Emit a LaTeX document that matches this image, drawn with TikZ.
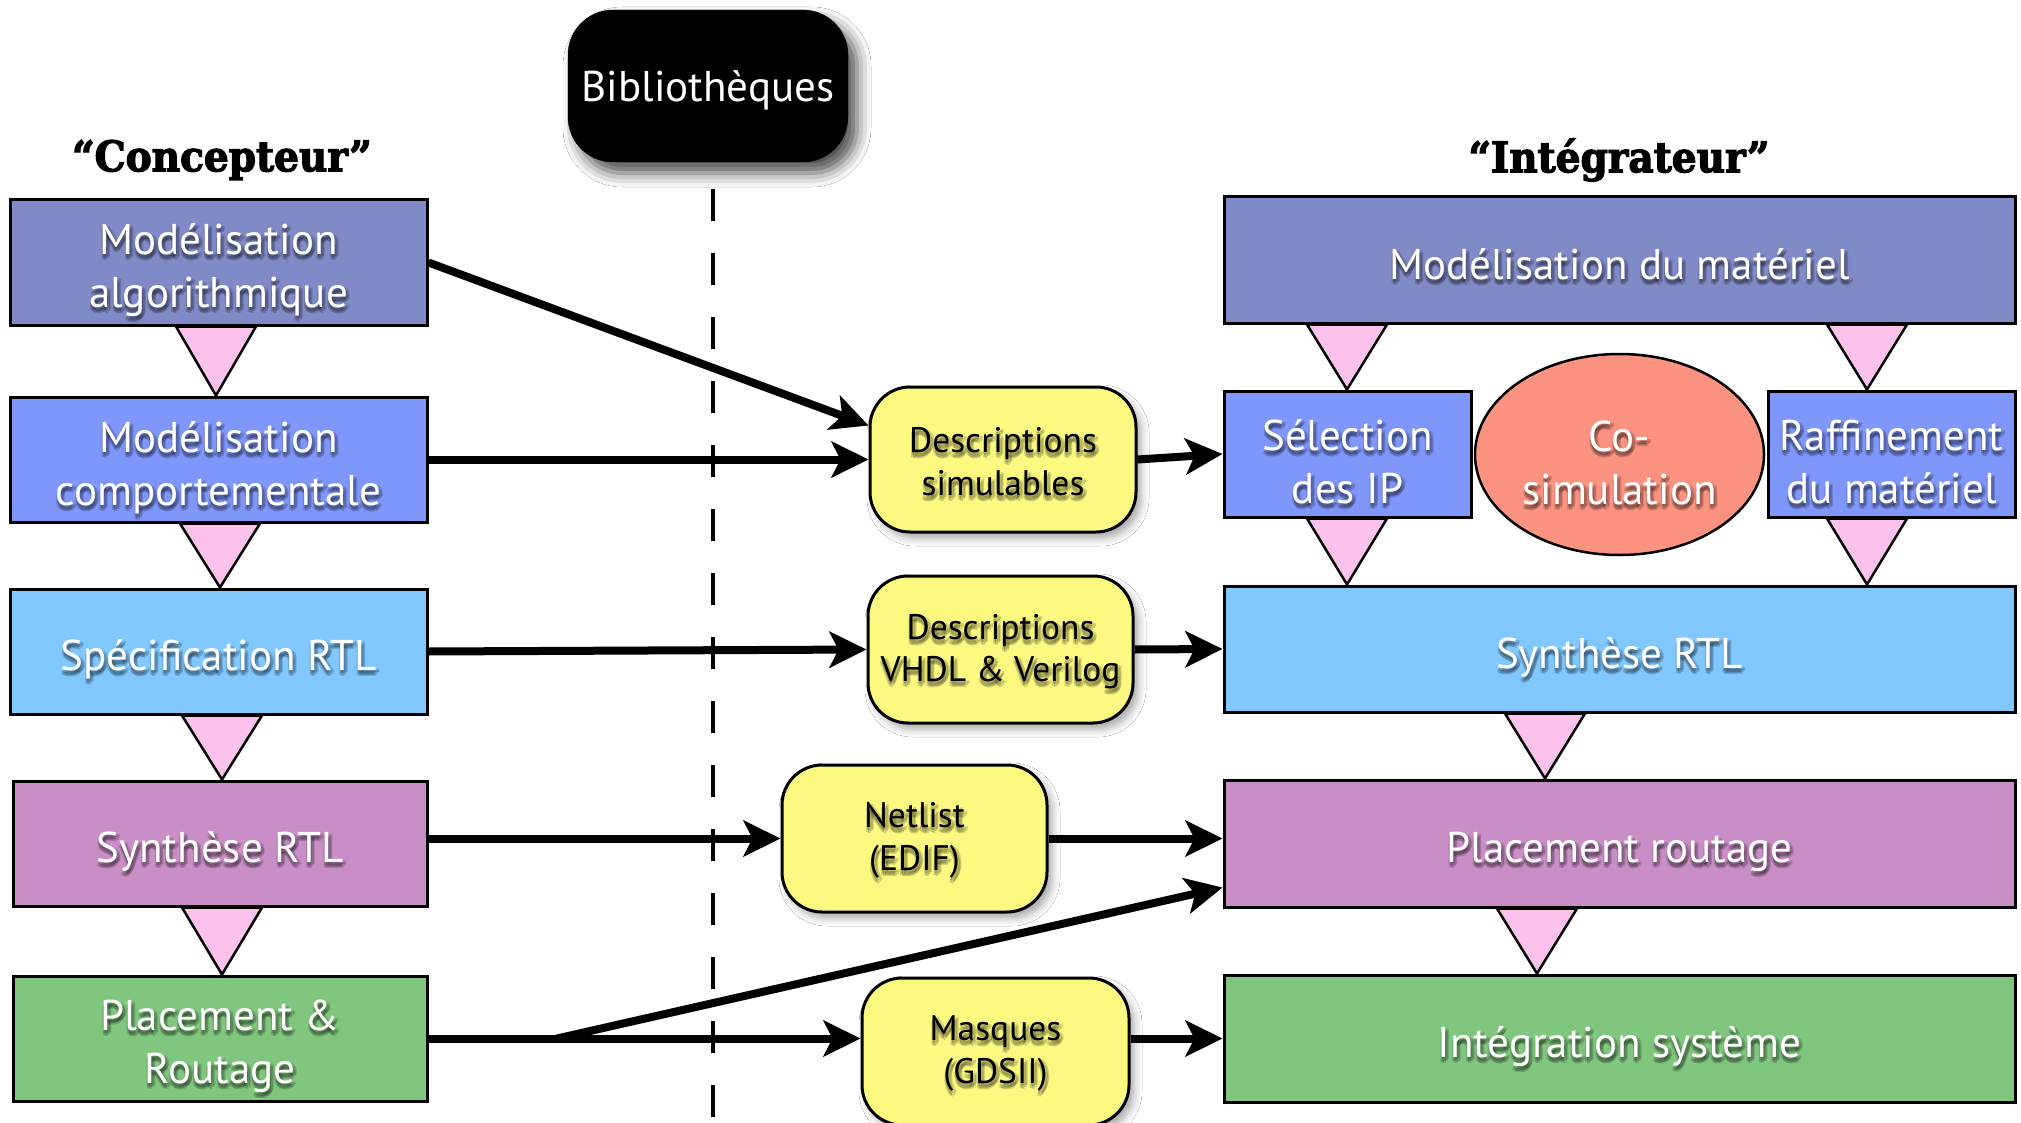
\documentclass[tikz,border=0pt]{standalone}
\usepackage{fontspec}
\usepackage{graphicx}
\setmainfont{PT Sans}
\newfontfamily\slabfont{DejaVu Serif}[BoldFeatures={FakeBold=3}]
\usetikzlibrary{arrows.meta,shapes.geometric,calc,shadows.blur}

\definecolor{slate}{HTML}{7F8AC6}
\definecolor{peri}{HTML}{7F96FA}
\definecolor{sky}{HTML}{80C8FF}
\definecolor{mauve}{HTML}{C98EC6}
\definecolor{leaf}{HTML}{80C67E}
\definecolor{pinktri}{HTML}{FCC2EC}
\definecolor{cosim}{HTML}{FC9380}
\definecolor{ylw}{HTML}{FCF981}

% text with a soft dark shadow: #1 node to label, #2 text colour, #3 style, #4 text
\newcommand\shtext[4]{%
  \foreach \dx/\dy [count=\k] in {0/3,3/4,1/6,4/2,-1/5}{%
    \node[#3,text=black,text opacity=0.16] (#1-s\k) at ([shift={(\dx,\dy)}]#1.center) {#4};}
  \node[#3,text=#2] (#1-t) at (#1.center) {#4};}

% pink step triangle from the bottom of #1 to the top of #2, centred at x = #3
\newcommand\flowtri[3]{%
  \coordinate (tx) at (#3,0);
  \draw[tri] ($(#1.south -| tx)+(-40,0)$) -- ($(#1.south -| tx)+(40,0)$) -- (#2.north -| tx) -- cycle;}

\begin{document}
\begin{tikzpicture}[x=1pt,y=-1pt,
  box/.style={draw=black,line width=3pt,rectangle,inner sep=0pt},
  ybox/.style={draw=black,line width=3pt,fill=ylw,rounded corners=40pt,inner sep=0pt,
    blur shadow={shadow xshift=5pt,shadow yshift=-6pt,shadow blur radius=8pt,shadow opacity=35}},
  tri/.style={draw=black,line width=2.5pt,fill=pinktri,line join=miter},
  flow/.style={line width=8pt,-{Stealth[length=37pt,width=36pt,inset=9pt]}},
  lbl/.style={align=center,inner sep=0pt,yshift=-8pt,font=\fontsize{43}{53}\selectfont},
  slbl/.style={align=center,inner sep=0pt,yshift=-2pt,font=\fontsize{35.5}{42.5}\selectfont},
  head/.style={inner sep=0pt,font=\slabfont\bfseries\fontsize{42}{50}\selectfont},
]
\fill[white] (0,0) rectangle (2021,1123);
\useasboundingbox (0,0) rectangle (2021,1123);

% library column separator
\coordinate (dtop) at (713,189);
\coordinate (dbot) at (713,1123);
\draw[line width=4pt,dash pattern=on 32pt off 32pt] (dtop) -- (dbot);

% column headings
\node[head] (hc) at (222,160) {\scalebox{0.93}[1]{“Concepteur”}};
\node[head] (hi) at (1619,160) {\scalebox{0.93}[1]{“Intégrateur”}};

% library
\node[draw=black,fill=black,rounded corners=45pt,minimum width=280pt,minimum height=152pt,
  blur shadow={shadow xshift=9pt,shadow yshift=-11pt,shadow blur radius=14pt,shadow opacity=70}]
  (lib) at (708,86) {};
\node[lbl,yshift=4pt,text=white,font=\fontsize{43}{50}\selectfont] (lib-t) at (lib.center) {Bibliothèques};

% designer flow
\node[box,fill=slate,minimum width=417pt,minimum height=125pt] (B1) at (218.5,262.5) {};
\node[box,fill=peri,minimum width=417pt,minimum height=125pt] (B2) at (218.5,459.5) {};
\node[box,fill=sky,minimum width=417pt,minimum height=125pt] (B3) at (218.5,651.5) {};
\node[box,fill=mauve,minimum width=414pt,minimum height=125pt] (B4) at (220,843.5) {};
\node[box,fill=leaf,minimum width=414pt,minimum height=125pt] (B5) at (220,1038.5) {};

% integrator flow
\node[box,fill=slate,minimum width=791pt,minimum height=126pt] (R1) at (1619.5,260) {};
\node[box,fill=peri,minimum width=247pt,minimum height=126pt] (R2) at (1347.5,454) {};
\node[box,fill=peri,minimum width=247pt,minimum height=126pt] (R3) at (1891.5,454) {};
\node[ellipse,draw=black,line width=2.5pt,fill=cosim,minimum width=289pt,minimum height=201pt,inner sep=0pt] (CS) at (1619.5,454.5) {};
\node[box,fill=sky,minimum width=791pt,minimum height=126pt] (R4) at (1619.5,649) {};
\node[box,fill=mauve,minimum width=791pt,minimum height=127pt] (R5) at (1619.5,843.5) {};
\node[box,fill=leaf,minimum width=791pt,minimum height=127pt] (R6) at (1619.5,1038.5) {};

% exchanged descriptions
\node[ybox,minimum width=266pt,minimum height=145pt] (Y1) at (1003,459.5) {};
\node[ybox,minimum width=265pt,minimum height=147pt] (Y2) at (1000.5,649.5) {};
\node[ybox,minimum width=265pt,minimum height=147pt] (Y3) at (914.5,838.5) {};
\node[ybox,minimum width=267pt,minimum height=147pt] (Y4) at (995.5,1051.5) {};

% step triangles
\flowtri{B1}{B2}{216}
\flowtri{B2}{B3}{220}
\flowtri{B3}{B4}{222}
\flowtri{B4}{B5}{222}
\flowtri{R1}{R2}{1347}
\flowtri{R1}{R3}{1867}
\flowtri{R2}{R4}{1347}
\flowtri{R3}{R4}{1867}
\flowtri{R4}{R5}{1545}
\flowtri{R5}{R6}{1537}

% connectors
\coordinate (br) at (557,0);
\draw[flow] (B1.east) -- ([yshift=34pt]Y1.west);
\draw[flow] (B2.east) -- (Y1.west);
\draw[flow] (Y1.east) -- (R2.west);
\draw[flow] (B3.east) -- (Y2.west);
\draw[flow] (Y2.east) -- (R4.west);
\draw[flow] (B4.east |- Y3.west) -- (Y3.west);
\draw[flow] (Y3.east) -- (Y3.east -| R5.west);
\draw[flow] (B5.east) -- (B5.east -| Y4.west);
\draw[flow] (B5.east -| br) -- ([yshift=-44pt]R5.west);
\draw[flow] (Y4.east |- R6.west) -- (R6.west);

% labels
\shtext{B1}{white}{lbl}{Modélisation\\algorithmique}
\shtext{B2}{white}{lbl}{Modélisation\\comportementale}
\shtext{B3}{white}{lbl}{Spécification RTL}
\shtext{B4}{white}{lbl}{Synthèse RTL}
\shtext{B5}{white}{lbl}{Placement \&\\Routage}
\shtext{R1}{white}{lbl,yshift=4pt}{Modélisation du matériel}
\shtext{R2}{white}{lbl}{Sélection\\des IP}
\shtext{R3}{white}{lbl}{Raffinement\\du matériel}
\shtext{CS}{white}{lbl}{Co-\\simulation}
\shtext{R4}{white}{lbl}{Synthèse RTL}
\shtext{R5}{white}{lbl}{Placement routage}
\shtext{R6}{white}{lbl}{Intégration système}
\shtext{Y1}{black}{slbl}{Descriptions\\simulables}
\shtext{Y2}{black}{slbl}{Descriptions\\VHDL \& Verilog}
\shtext{Y3}{black}{slbl}{Netlist\\(EDIF)}
\shtext{Y4}{black}{slbl}{Masques\\(GDSII)}
\end{tikzpicture}
\end{document}
